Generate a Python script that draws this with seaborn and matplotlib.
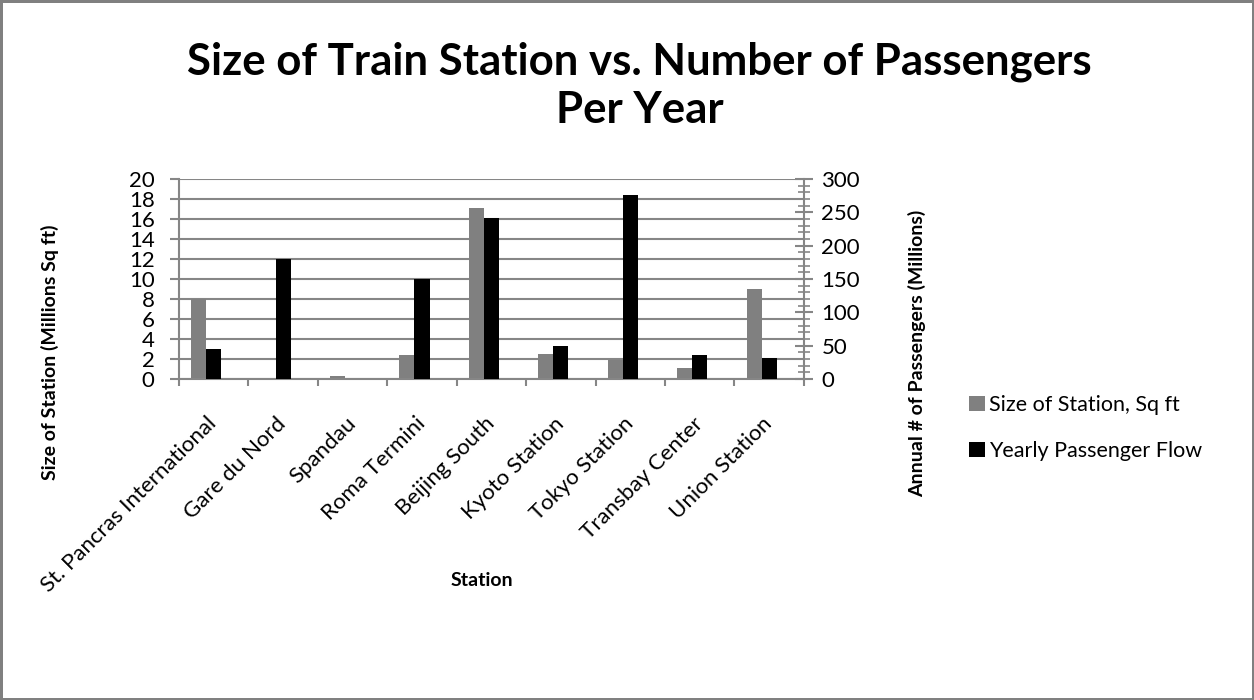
import pandas as pd
import matplotlib.pyplot as plt
import seaborn as sns
from matplotlib.patches import Patch
from matplotlib.ticker import MultipleLocator, FixedLocator

# --- data ---
stations = ["St. Pancras International", "Gare du Nord", "Spandau", "Roma Termini",
            "Beijing South", "Kyoto Station", "Tokyo Station", "Transbay Center",
            "Union Station"]
size_sqft = [8.0, 0.0, 0.25, 2.4, 17.1, 2.5, 1.9, 1.1, 9.0]       # millions sq ft
passengers = [45, 180, 0, 150, 241, 50, 276, 36, 31]              # millions per year

size_label = "Size of Station, Sq ft"
flow_label = "Yearly Passenger Flow"
# Excel leaves an empty third slot in each group, so the pair sits left of centre
hue_order = [size_label, flow_label, "_empty"]
colors = {size_label: "#808080", flow_label: "#000000", "_empty": "white"}

df_size = pd.DataFrame({"Station": stations, "Series": size_label, "Value": size_sqft})
df_flow = pd.DataFrame({"Station": stations, "Series": flow_label, "Value": passengers})

sns.set_theme(style="white")
plt.rcParams['font.family'] = ['Lato', 'DejaVu Sans']
plt.rcParams['text.color'] = 'black'
plt.rcParams['axes.labelcolor'] = 'black'

grid_col = "#868686"

fig = plt.figure(figsize=(12.54, 7), dpi=100)
ax = fig.add_axes([0.1427, 0.4586, 0.4984, 0.2857])

ax.set_axisbelow(True)
ax.yaxis.grid(True, color=grid_col, linewidth=1.5)

sns.barplot(data=df_size, x="Station", y="Value", hue="Series", hue_order=hue_order,
            palette=colors, dodge=True, width=0.65, linewidth=0, legend=False, ax=ax)
ax.set_ylim(0, 20)
ax.yaxis.set_major_locator(MultipleLocator(2))
ax.set_xlim(-0.5, len(stations) - 0.5)

ax2 = ax.twinx()
sns.barplot(data=df_flow, x="Station", y="Value", hue="Series", hue_order=hue_order,
            palette=colors, dodge=True, width=0.65, linewidth=0, legend=False, ax=ax2)
ax2.set_ylim(0, 300)
ax2.set_xlim(-0.5, len(stations) - 0.5)
ax2.yaxis.set_major_locator(MultipleLocator(50))
ax2.yaxis.set_minor_locator(MultipleLocator(10))

# spines
for a in (ax, ax2):
    for s in a.spines.values():
        s.set_visible(False)
for a, side in ((ax, 'left'), (ax, 'bottom'), (ax2, 'right')):
    a.spines[side].set_visible(True)
    a.spines[side].set_color(grid_col)
    a.spines[side].set_linewidth(1.5)

# ticks
ax.tick_params(axis='y', which='major', direction='out', length=6.5, width=1.5,
               color=grid_col, labelcolor='black', labelsize=16, pad=11, left=True)
ax.tick_params(axis='x', which='major', length=0, labelsize=16, labelcolor='black', pad=30)
ax.xaxis.set_minor_locator(FixedLocator([i - 0.5 for i in range(len(stations) + 1)]))
ax.tick_params(axis='x', which='minor', direction='out', length=5, width=1.5,
               color=grid_col, bottom=True)
ax2.tick_params(axis='y', which='major', direction='inout', length=13, width=1.5,
                color=grid_col, labelcolor='black', labelsize=16, pad=6, right=True)
ax2.tick_params(axis='y', which='minor', direction='inout', length=9, width=1.2,
                color=grid_col, right=True)

ax.set_xticks(range(len(stations)))
ax.set_xticklabels(stations, rotation=45, ha='right', va='center', rotation_mode='anchor')

ax.set_xlabel("Station", fontsize=14, fontweight='bold')
ax.xaxis.set_label_coords(0.485, -0.965)
ax.set_ylabel("Size of Station (Millions Sq ft)", fontsize=14, fontweight='bold')
ax.yaxis.set_label_coords(-0.192, 0.135)
ax2.set_ylabel("Annual # of Passengers (Millions)", fontsize=14, fontweight='bold')
ax2.yaxis.set_label_coords(1.166, 0.13)

fig.text(0.51, 1 - 75 / 700, "Size of Train Station vs. Number of Passengers",
         ha='center', va='baseline', fontsize=31.5, fontweight='bold')
fig.text(0.51, 1 - 123 / 700, "Per Year",
         ha='center', va='baseline', fontsize=31.5, fontweight='bold')

handles = [Patch(facecolor=colors[k], edgecolor='none') for k in hue_order[:2]]
fig.legend(handles, hue_order[:2], loc='center left', bbox_to_anchor=(0.7727, 0.3886),
           frameon=False, fontsize=15.5, handlelength=0.75, handleheight=0.75,
           handletextpad=0.2, labelspacing=1.2, borderpad=0, borderaxespad=0)

fig.patch.set_edgecolor("#808080")
fig.patch.set_linewidth(2.5)

fig.savefig("out.png", dpi=100, facecolor='white', edgecolor=fig.get_edgecolor())
